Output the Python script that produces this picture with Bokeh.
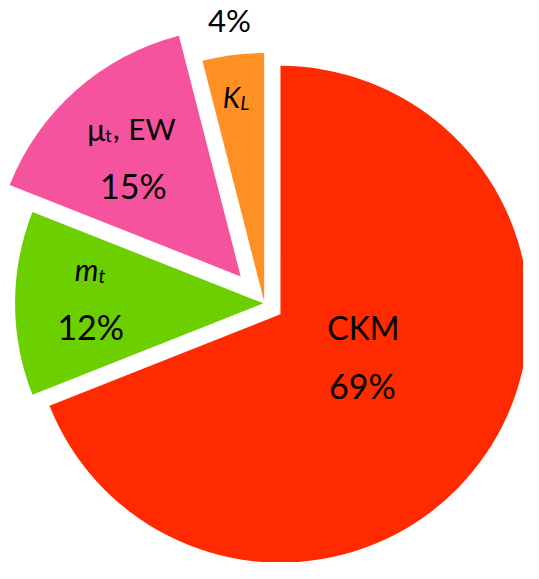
import math
from bokeh.plotting import figure
from bokeh.models import ColumnDataSource, Range1d
from bokeh.core.properties import value
from bokeh.embed import file_html
from bokeh.resources import INLINE

# ---- data ----
slices = ["CKM", "m_t", "mu_t, EW", "K_L"]
shares = [69, 12, 15, 4]
pct_labels = ["69%", "12%", "15%", "4%"]
colors = ["#FF2A00", "#6CCF00", "#F5539E", "#FF9124"]

# ---- layout (reference pixel space, y down) ----
REF_W, REF_H = 539, 579
W = 523
H = round(REF_H * W / REF_W)
S = W / REF_W  # screen scale
CX, CY = 272, 312
R = 256
explode = [20, 1, 37, 2]
FONT = "Lato"
K_BASE = 0.46  # empirical baseline correction (em)


def Y(y):
    return REF_H - y


p = figure(width=W, height=H, x_range=Range1d(0, REF_W), y_range=Range1d(0, REF_H),
           toolbar_location=None, output_backend="svg", min_border=0,
           x_axis_type=None, y_axis_type=None)
p.grid.visible = False
p.outline_line_color = None
p.background_fill_color = "white"

total = sum(shares)
xs, ys, starts, ends = [], [], [], []
cum = 0.0
for v, e in zip(shares, explode):
    a0 = cum / total * 360.0          # clockwise from 12 o'clock
    a1 = (cum + v) / total * 360.0
    mid = math.radians((a0 + a1) / 2)
    tx = CX + e * math.sin(mid)
    ty = CY - e * math.cos(mid)
    xs.append(tx)
    ys.append(Y(ty))
    starts.append(math.radians(90 - a1))
    ends.append(math.radians(90 - a0))
    cum += v

src = ColumnDataSource(dict(x=xs, y=ys, start=starts, end=ends, color=colors))
p.wedge(x="x", y="y", radius=R, start_angle="start", end_angle="end",
        fill_color="color", line_color=None, source=src, direction="anticlock")


def txt(x, y, s, size, align="center", style="normal"):
    yy = y - K_BASE * size
    p.text(x=[x], y=[Y(yy)], text=[s], text_font=value(FONT),
           text_font_size=f"{size * S:.1f}px", text_align=align,
           text_baseline="alphabetic", text_font_style=style, text_color="black")


# CKM
txt(374, 352, "CKM", 33)
txt(373, 413, pct_labels[0], 35)
# m_t
txt(101, 291, "m", 31, "right", "italic")
txt(101, 293, "t", 20, "left", "italic")
txt(93, 352, pct_labels[1], 35)
# mu_t, EW
txt(108, 147, "\u03bc", 31, "right")
txt(108, 147, "t", 18, "left")
txt(116, 146, ",", 30, "left")
txt(132, 146, "EW", 30, "left")
txt(137, 207, pct_labels[2], 35)
# K_L
txt(247, 113, "K", 29, "right", "italic")
txt(247, 114, "L", 20, "left", "italic")
txt(236, 35, pct_labels[3], 32)

open("out.html", "w").write(file_html(p, INLINE))
